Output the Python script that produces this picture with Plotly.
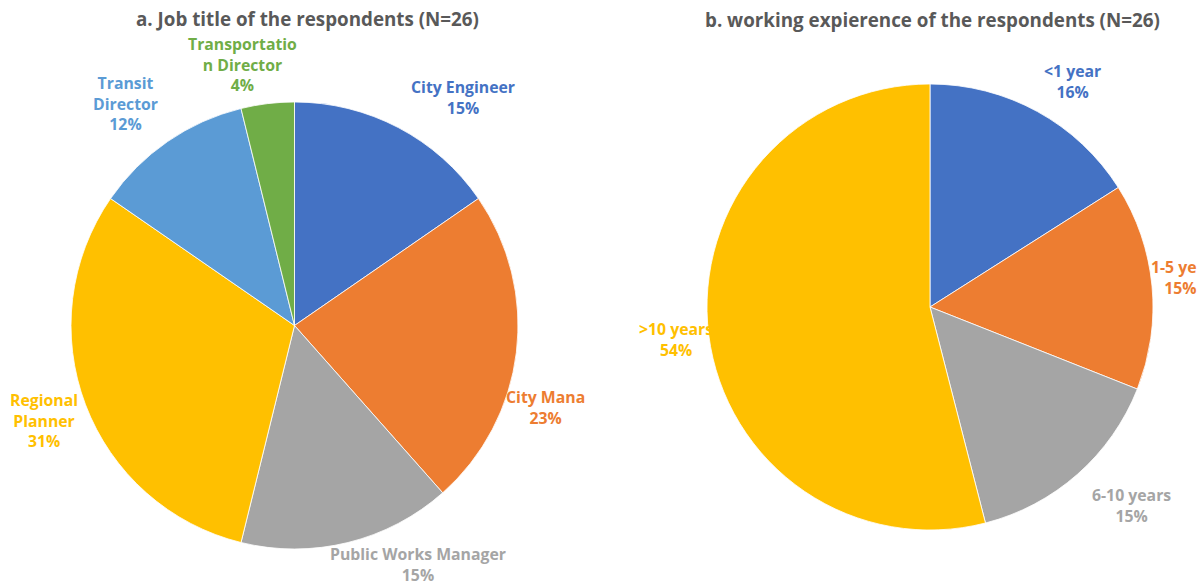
import plotly.graph_objects as go

# ---- data ----
job_titles = ["City Engineer", "City Manager", "Public Works Manager",
              "Regional Planner", "Transit Director", "Transportation Director"]
job_counts = [4, 6, 4, 8, 3, 1]
job_label_text = ["City Engineer", "City Mana", "Public Works Manager",
                  "Regional<br>Planner", "Transit<br>Director", "Transportatio<br>n Director"]

exp_labels = ["<1 year", "1-5 years", "6-10 years", ">10 years"]
exp_values = [16, 15, 15, 54]
exp_label_text = ["<1 year", "1-5 ye", "6-10 years", ">10 years"]

job_colors = ["#4472C4", "#ED7D31", "#A5A5A5", "#FFC000", "#5B9BD5", "#70AD47"]
exp_colors = ["#4472C4", "#ED7D31", "#A5A5A5", "#FFC000"]

W, H = 1202, 585
FONT = "Open Sans"

fig = go.Figure()
fig.add_trace(go.Pie(
    labels=job_titles, values=job_counts, sort=False, direction="clockwise",
    rotation=0, textinfo="none", hoverinfo="label+percent",
    marker=dict(colors=job_colors, line=dict(color="white", width=0.8)),
    domain=dict(x=[71 / W, 518 / W], y=[1 - 549 / H, 1 - 102 / H]),
    showlegend=False,
))
fig.add_trace(go.Pie(
    labels=exp_labels, values=exp_values, sort=False, direction="clockwise",
    rotation=0, textinfo="none", hoverinfo="label+percent",
    marker=dict(colors=exp_colors, line=dict(color="white", width=0.8)),
    domain=dict(x=[707 / W, 1153 / W], y=[1 - 530 / H, 1 - 84 / H]),
    showlegend=False,
))

total_job = sum(job_counts)
job_pcts = [f"{round(100 * v / total_job)}%" for v in job_counts]
total_exp = sum(exp_values)
exp_pcts = [f"{round(100 * v / total_exp)}%" for v in exp_values]

# label placements (pixel anchor, xanchor)
job_pos = [(463, 97.5, "center"), (545, 407, "center"), (418, 564, "center"),
           (44, 420, "center"), (125, 103, "center"), (243, 64, "center")]
exp_pos = [(1072, 81.5, "center"), (1199, 277.5, "right"),
           (1131, 505.5, "center"), (676, 339.5, "center")]

LABEL_SIZE = 15.8
anns = []
def add_label(x, y, text, color, xanchor="center"):
    anns.append(dict(x=x / W, y=1 - y / H, xref="paper", yref="paper",
                     text=text, showarrow=False, xanchor=xanchor, yanchor="middle",
                     align=xanchor,
                     font=dict(family=FONT, size=LABEL_SIZE, color=color, weight="bold")))

for (x, y, xa), t, p, c in zip(job_pos, job_label_text, job_pcts, job_colors):
    add_label(x, y, f"{t}<br>{p}", c, xa)

for (x, y, xa), t, p, c in zip(exp_pos, exp_label_text, exp_pcts, exp_colors):
    add_label(x, y, f"{t}<br>{p}", c, xa)

titles = [("a. Job title of the respondents (N=26)", 307, 19),
          ("b. working expierence of the respondents (N=26)", 932, 20)]
for t, x, y in titles:
    anns.append(dict(x=x / W, y=1 - y / H, xref="paper", yref="paper", text=t,
                     showarrow=False, xanchor="center", yanchor="middle",
                     font=dict(family=FONT, size=18.8, color="#595959", weight="bold")))

fig.update_layout(
    width=W, height=H, margin=dict(l=0, r=0, t=0, b=0),
    paper_bgcolor="white", plot_bgcolor="white",
    annotations=anns,
)

fig.write_html("out.html", config={"displayModeBar": False},
               post_script="document.body.style.margin='0';")
